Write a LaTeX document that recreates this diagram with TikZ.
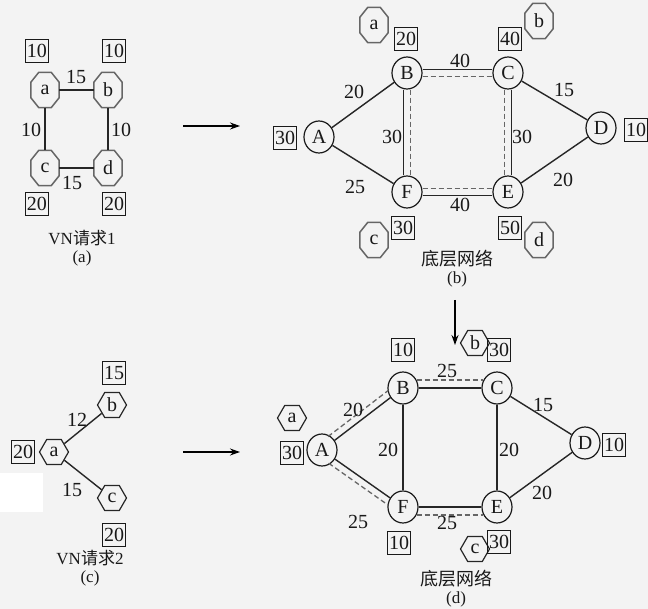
\documentclass[tikz,border=0pt]{standalone}
\usepackage{fontspec}
\setmainfont{Liberation Serif}
\newfontfamily\cjk{Noto Sans CJK SC}
\usetikzlibrary{shapes.geometric,calc,arrows.meta}
\definecolor{bg}{HTML}{F3F3F3}
\newcommand\octframe[1]{%
  \draw[octline] ([xshift=8pt]#1.north west) -- ([xshift=-8pt]#1.north east)
    -- ([yshift=-10pt]#1.north east) -- ([yshift=10pt]#1.south east)
    -- ([xshift=-8pt]#1.south east) -- ([xshift=8pt]#1.south west)
    -- ([yshift=10pt]#1.south west) -- ([yshift=-10pt]#1.north west) -- cycle;}
\begin{document}
\begin{tikzpicture}[x=1pt,y=-1pt,
  every node/.style={font=\fontsize{20}{20}\selectfont, text=black!90},
  vbox/.style={draw=black!90, line width=1.1pt, minimum width=23pt, minimum height=23pt, inner sep=0pt},
  oct/.style={rectangle, minimum width=28pt, minimum height=35pt, inner sep=0pt},
  octline/.style={draw=black!60, line width=1.5pt, line join=round},
  hexa/.style={regular polygon, regular polygon sides=6, draw=black!85, line width=1.2pt, minimum size=29pt, inner sep=0pt},
  pnode/.style={ellipse, draw=black!90, line width=1.2pt, minimum width=30pt, minimum height=32pt, inner sep=0pt},
  edge/.style={draw=black!85, line width=1.4pt},
  dedge/.style={draw=black!60, line width=1.3pt, dash pattern=on 5pt off 3pt},
  lbl/.style={inner sep=0pt},
  captxt/.style={inner sep=0pt, font=\fontsize{17}{17}\selectfont},
  arr/.style={draw=black, line width=1.3pt, -{Stealth[length=10pt,width=7pt]}}
]
\fill[bg] (0,0) rectangle (648,609);
\fill[white] (0,473) rectangle (43,512);
\useasboundingbox (0,0) rectangle (648,609);

% ---------- panel (a)
\node[vbox] (ab1) at (37,51) {10};
\node[vbox] (ab2) at (114,51) {10};
\node[vbox] (ab3) at (37,204) {20};
\node[vbox] (ab4) at (114,204) {20};
\node[oct] (oa) at (45,90) {a};
\node[oct] (ob) at (108,90) {b};
\node[oct] (oc) at (45,168) {c};
\node[oct] (od) at (108,168) {d};
\octframe{oa}\octframe{ob}\octframe{oc}\octframe{od}
\draw[edge] (oa) -- (ob);
\draw[edge] (oc) -- (od);
\draw[edge] (oa) -- (oc);
\draw[edge] (ob) -- (od);
\node[lbl] (la1) at (76,77) {15};
\node[lbl] (la2) at (72,183) {15};
\node[lbl] (la3) at (31,130) {10};
\node[lbl] (la4) at (121,130) {10};
\node[captxt] (ta1) at (82,238) {VN{\cjk 请求}1};
\node[captxt] (ta2) at (82,258) {(a)};

% arrows
\coordinate (r1s) at (183,126);
\coordinate (r1e) at (240,126);
\draw[arr] (r1s) -- (r1e);
\coordinate (r2s) at (455,300);
\coordinate (r2e) at (455,345);
\draw[arr] (r2s) -- (r2e);
\coordinate (r3s) at (183,452);
\coordinate (r3e) at (240,452);
\draw[arr] (r3s) -- (r3e);

% ---------- panel (b)
\node[pnode] (bA) at (319,137) {A};
\node[pnode] (bB) at (407,73) {B};
\node[pnode] (bC) at (508,73) {C};
\node[pnode] (bD) at (601,128) {D};
\node[pnode] (bE) at (508,192) {E};
\node[pnode] (bF) at (407,192) {F};
\draw[edge] (bA) -- (bB);
\draw[edge] (bA) -- (bF);
\draw[edge] (bC) -- (bD);
\draw[edge] (bE) -- (bD);
\draw[edge]  ([yshift=3.5pt]bB.east) -- ([yshift=3.5pt]bC.west);
\draw[dedge] ([yshift=-3.5pt]bB.east) -- ([yshift=-3.5pt]bC.west);
\draw[edge]  ([yshift=-3.5pt]bF.east) -- ([yshift=-3.5pt]bE.west);
\draw[dedge] ([yshift=3.5pt]bF.east) -- ([yshift=3.5pt]bE.west);
\draw[edge]  ([xshift=-3.5pt]bB.south) -- ([xshift=-3.5pt]bF.north);
\draw[dedge] ([xshift=3.5pt]bB.south) -- ([xshift=3.5pt]bF.north);
\draw[edge]  ([xshift=3.5pt]bC.south) -- ([xshift=3.5pt]bE.north);
\draw[dedge] ([xshift=-3.5pt]bC.south) -- ([xshift=-3.5pt]bE.north);
\node[lbl] (lb1) at (354,92) {20};
\node[lbl] (lb2) at (355,187) {25};
\node[lbl] (lb3) at (460,61) {40};
\node[lbl] (lb4) at (460,205) {40};
\node[lbl] (lb5) at (392,137) {30};
\node[lbl] (lb6) at (522,137) {30};
\node[lbl] (lb7) at (564,90) {15};
\node[lbl] (lb8) at (563,180) {20};
\node[vbox] (bb1) at (285,138) {30};
\node[vbox] (bb2) at (636,130) {10};
\node[vbox] (bb3) at (406,39) {20};
\node[vbox] (bb4) at (510,39) {40};
\node[vbox] (bb5) at (403,228) {30};
\node[vbox] (bb6) at (510,228) {50};
\node[oct] (boa) at (374,25) {a};
\node[oct] (bob) at (539,21) {b};
\node[oct] (boc) at (374,240) {c};
\node[oct] (bod) at (539,240) {d};
\octframe{boa}\octframe{bob}\octframe{boc}\octframe{bod}
\node[captxt, font=\fontsize{18}{18}\selectfont\cjk] (tb1) at (457,259) {底层网络};
\node[captxt] (tb2) at (457,279) {(b)};

% ---------- panel (c)
\node[hexa] (ha) at (54,452) {a};
\node[hexa] (hb) at (112,405) {b};
\node[hexa] (hc) at (112,498) {c};
\draw[edge] (ha) -- (hb);
\draw[edge] (ha) -- (hc);
\node[vbox] (cb1) at (114,373) {15};
\node[vbox] (cb2) at (23,452) {20};
\node[vbox] (cb3) at (114,535) {20};
\node[lbl] (lc1) at (77,420) {12};
\node[lbl] (lc2) at (72,490) {15};
\node[captxt] (tc1) at (90,558) {VN{\cjk 请求}2};
\node[captxt] (tc2) at (90,578) {(c)};

% ---------- panel (d)
\node[pnode] (dA) at (322,450) {A};
\node[pnode] (dB) at (403,388) {B};
\node[pnode] (dC) at (497,388) {C};
\node[pnode] (dD) at (585,443) {D};
\node[pnode] (dE) at (497,507) {E};
\node[pnode] (dF) at (403,507) {F};
\draw[edge] (dA) -- (dB);
\draw[edge] (dA) -- (dF);
\draw[edge] (dB) -- (dC);
\draw[edge] (dF) -- (dE);
\draw[edge] (dB) -- (dF);
\draw[edge] (dC) -- (dE);
\draw[edge] (dC) -- (dD);
\draw[edge] (dE) -- (dD);
\draw[dedge, shorten <=13pt, shorten >=13pt] ($(dA)!7pt!90:(dB)$) -- ($(dB)!7pt!-90:(dA)$);
\draw[dedge, shorten <=13pt, shorten >=13pt] ($(dA)!7pt!-90:(dF)$) -- ($(dF)!7pt!90:(dA)$);
\draw[dedge] (dB.30) -- (dC.150);
\draw[dedge] (dF.-30) -- (dE.-150);
\node[lbl] (ld1) at (353,410) {20};
\node[lbl] (ld2) at (447,371) {25};
\node[lbl] (ld3) at (543,405) {15};
\node[lbl] (ld4) at (388,450) {20};
\node[lbl] (ld5) at (509,450) {20};
\node[lbl] (ld6) at (542,493) {20};
\node[lbl] (ld7) at (358,522) {25};
\node[lbl] (ld8) at (447,523) {25};
\node[vbox] (db1) at (292,453) {30};
\node[hexa] (dha) at (292,418) {a};
\node[vbox] (db2) at (403,350) {10};
\node[hexa] (dhb) at (475,343) {b};
\node[vbox] (db3) at (499,350) {30};
\node[vbox] (db4) at (614,445) {10};
\node[vbox] (db5) at (399,543) {10};
\node[hexa] (dhc) at (475,549) {c};
\node[vbox] (db6) at (499,542) {30};
\node[captxt, font=\fontsize{18}{18}\selectfont\cjk] (td1) at (456,579) {底层网络};
\node[captxt] (td2) at (456,599) {(d)};
\end{tikzpicture}
\end{document}
